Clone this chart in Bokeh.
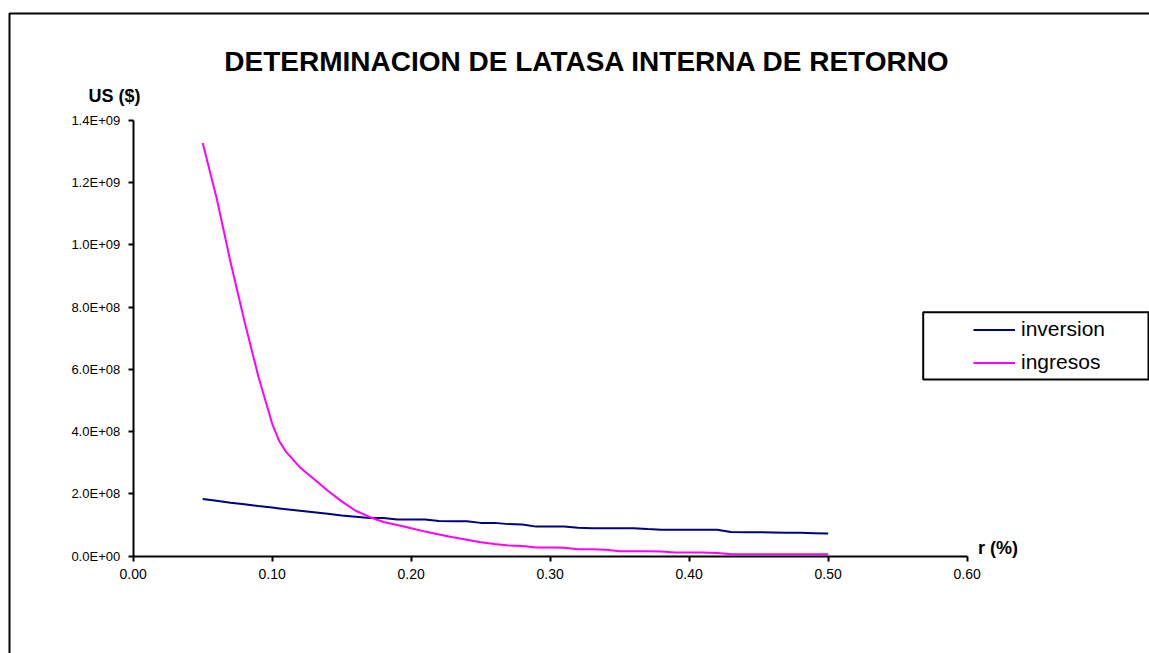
from bokeh.plotting import figure
from bokeh.models import (Range1d, LinearAxis, FixedTicker, NumeralTickFormatter,
                          Label, BoxAnnotation, PolyAnnotation)
from bokeh.embed import file_html
from bokeh.resources import INLINE

# ---------------- data ----------------
title_text = "DETERMINACION DE LATASA INTERNA DE RETORNO"
y_label = "US ($)"
x_label = "r (%)"

r = [0.05, 0.06, 0.07, 0.08, 0.09, 0.10, 0.105, 0.11, 0.12, 0.13, 0.14, 0.15,
     0.16, 0.17, 0.18, 0.19, 0.20, 0.21, 0.22, 0.23, 0.24, 0.25, 0.26, 0.27,
     0.28, 0.29, 0.30, 0.31, 0.32, 0.33, 0.34, 0.35, 0.36, 0.37, 0.38, 0.39,
     0.40, 0.41, 0.42, 0.43, 0.44, 0.45, 0.46, 0.47, 0.48, 0.49, 0.50]

inversion = [1.84e8, 1.78e8, 1.72e8, 1.67e8, 1.61e8, 1.56e8, 1.535e8, 1.51e8,
             1.46e8, 1.41e8, 1.36e8, 1.31e8, 1.27e8, 1.23e8, 1.23e8, 1.18e8,
             1.18e8, 1.18e8, 1.13e8, 1.12e8, 1.12e8, 1.07e8, 1.07e8, 1.03e8,
             1.02e8, 0.95e8, 0.95e8, 0.95e8, 0.91e8, 0.90e8, 0.90e8, 0.90e8,
             0.90e8, 0.87e8, 0.85e8, 0.85e8, 0.85e8, 0.85e8, 0.85e8, 0.78e8,
             0.77e8, 0.77e8, 0.76e8, 0.75e8, 0.75e8, 0.74e8, 0.73e8]

ingresos = [1.327e9, 1.150e9, 0.945e9, 0.755e9, 0.578e9, 0.425e9, 0.370e9,
            0.335e9, 0.285e9, 0.248e9, 0.210e9, 0.176e9, 0.146e9, 0.126e9,
            0.110e9, 0.100e9, 0.090e9, 0.079e9, 0.070e9, 0.061e9, 0.053e9,
            0.045e9, 0.039e9, 0.034e9, 0.033e9, 0.028e9, 0.028e9, 0.027e9,
            0.022e9, 0.022e9, 0.021e9, 0.016e9, 0.016e9, 0.016e9, 0.015e9,
            0.012e9, 0.012e9, 0.012e9, 0.010e9, 0.006e9, 0.006e9, 0.006e9,
            0.006e9, 0.006e9, 0.006e9, 0.006e9, 0.006e9]

x_ticks = [0.0, 0.1, 0.2, 0.3, 0.4, 0.5, 0.6]
y_ticks = [0, 200000000, 400000000, 600000000, 800000000, 1000000000,
           1200000000, 1400000000]
y_tick_labels = ["0.0E+00", "2.0E+08", "4.0E+08", "6.0E+08", "8.0E+08",
                 "1.0E+09", "1.2E+09", "1.4E+09"]

# ---------------- layout helpers (canvas px -> data) ----------------
W, H = 1149, 653
KX = 1390.0                 # px per unit of r
X0 = -132.7 / KX            # data x at canvas left
KY = 436.0 / 1.4e9          # px per $
YT = 555.7 / KY             # data y at canvas top


def dx(cx):
    return X0 + cx / KX


def dy(cy):
    return YT - cy / KY


FONT = "Liberation Sans"

p = figure(width=W, height=H, output_backend="svg", toolbar_location=None,
           x_axis_type=None, y_axis_type=None,
           x_range=Range1d(dx(0), dx(W)), y_range=Range1d(dy(H), dy(0)),
           min_border=0, min_border_left=0, min_border_right=0,
           min_border_top=0, min_border_bottom=0)
p.outline_line_color = None
p.background_fill_color = "white"
p.border_fill_color = "white"

# chart border (left/top visible, right/bottom beyond the window)
p.add_layout(PolyAnnotation(xs=[dx(9), dx(9), dx(W + 60), dx(W + 60)],
                            ys=[dy(H + 60), dy(13), dy(13), dy(H + 60)],
                            fill_color=None, fill_alpha=0, line_color="black",
                            line_alpha=1, line_width=2, level="underlay"))

# axes
xaxis = LinearAxis(fixed_location=0, bounds=(0, 0.6),
                   ticker=FixedTicker(ticks=x_ticks, minor_ticks=[]),
                   formatter=NumeralTickFormatter(format="0.00"))
yaxis = LinearAxis(fixed_location=0, bounds=(0, 1.4e9),
                   ticker=FixedTicker(ticks=y_ticks, minor_ticks=[]))
yaxis.major_label_overrides = dict(zip(y_ticks, y_tick_labels))
for ax, fs in ((xaxis, "14px"), (yaxis, "13px")):
    ax.axis_line_color = "black"
    ax.axis_line_width = 2
    ax.major_tick_line_color = "black"
    ax.major_tick_line_width = 2
    ax.major_tick_out = 5
    ax.major_tick_in = 0
    ax.minor_tick_out = 0
    ax.minor_tick_in = 0
    ax.major_label_text_font = FONT
    ax.major_label_text_font_size = fs
    ax.major_label_text_color = "black"
    ax.major_label_standoff = 8
p.add_layout(xaxis, "below")
p.add_layout(yaxis, "left")

# series
p.line(r, inversion, line_color="#000080", line_width=2, legend_label="inversion")
p.line(r, ingresos, line_color="#FF00FF", line_width=2, legend_label="ingresos")

# texts
p.add_layout(Label(x=dx(587), y=dy(61), text=title_text, text_align="center",
                   text_baseline="alphabetic", text_font=FONT, text_font_size="28px",
                   text_font_style="bold", text_color="black"))
p.add_layout(Label(x=dx(88), y=dy(95), text=y_label, text_align="left",
                   text_baseline="alphabetic", text_font=FONT, text_font_size="18px",
                   text_font_style="bold", text_color="black"))
p.add_layout(Label(x=dx(977.5), y=dy(547), text=x_label, text_align="left",
                   text_baseline="alphabetic", text_font=FONT, text_font_size="18px",
                   text_font_style="bold", text_color="black"))

# legend frame
p.add_layout(BoxAnnotation(left=dx(922.7), top=dy(311.7), right=dx(1148), bottom=dy(379),
                           fill_color="white", fill_alpha=1, line_color="black",
                           line_alpha=1, line_width=2, level="annotation"))

leg = p.legend[0]
leg.location = (973, H - 378.8)
leg.padding = 0
leg.margin = 0
leg.spacing = 0
leg.glyph_width = 42
leg.glyph_height = 33
leg.label_height = 33
leg.label_standoff = 6
leg.label_text_font = FONT
leg.label_text_font_size = "21px"
leg.label_text_color = "black"
leg.border_line_color = None
leg.background_fill_alpha = 0

open("out.html", "w").write(file_html(p, INLINE))
